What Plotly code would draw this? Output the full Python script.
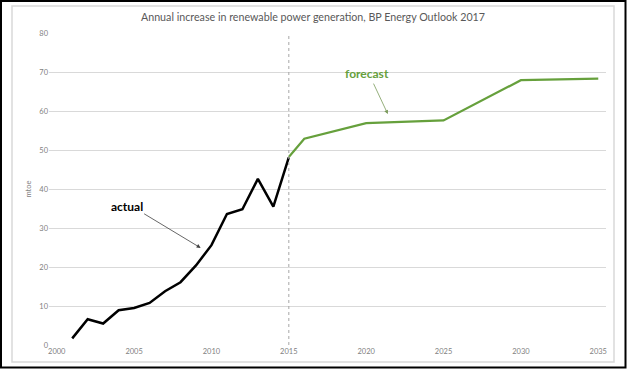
import plotly.graph_objects as go

years_actual = [2001, 2002, 2003, 2004, 2005, 2006, 2007, 2008, 2009, 2010, 2011, 2012, 2013, 2014, 2015]
actual = [1.7, 6.6, 5.5, 8.9, 9.5, 10.8, 13.8, 16.1, 20.4, 25.6, 33.6, 34.8, 42.6, 35.5, 48.1]
years_forecast = [2015, 2016, 2020, 2025, 2030, 2035]
forecast = [48.2, 52.9, 56.9, 57.6, 67.9, 68.3]
x_ticks = [2000, 2005, 2010, 2015, 2020, 2025, 2030, 2035]
y_ticks = [0, 10, 20, 30, 40, 50, 60, 70, 80]
divider_year = 2015

W, H = 627, 369
L, R, T, B = 49, 606, 33, 345

def px(x):
    return (x - L) / (R - L)

def py(y):
    return (B - y) / (B - T)

fig = go.Figure()
fig.add_trace(go.Scatter(x=years_actual, y=actual, mode="lines",
                         line=dict(color="#000000", width=2.5), showlegend=False))
fig.add_trace(go.Scatter(x=years_forecast, y=forecast, mode="lines",
                         line=dict(color="#66A03C", width=2.2), showlegend=False))

font = "Lato, 'Open Sans', sans-serif"
fig.update_layout(
    width=W, height=H,
    margin=dict(l=L, r=W - R, t=T, b=H - B),
    paper_bgcolor="white", plot_bgcolor="white",
    title=dict(text="Annual increase in renewable power generation, BP Energy Outlook 2017",
               x=313 / W, xanchor="center", y=1 - 17 / H, yanchor="middle",
               font=dict(family=font, size=10.7, color="#595959")),
    xaxis=dict(range=[1999.5, 2035.5], tickvals=x_ticks, ticktext=[str(v) for v in x_ticks],
               showgrid=False, zeroline=False, showline=False, ticks="",
               tickfont=dict(family=font, size=7.5, color="#7f7f7f")),
    yaxis=dict(range=[0, 80], tickvals=y_ticks, showgrid=True, gridcolor="#d9d9d9", gridwidth=1,
               zeroline=False, showline=False, ticks="",
               tickfont=dict(family=font, size=7.5, color="#7f7f7f"),
               title=dict(text="mtoe", font=dict(family=font, size=7.5, color="#7f7f7f"), standoff=6)),
    shapes=[
        dict(type="line", xref="x", yref="y", x0=divider_year, x1=divider_year, y0=0, y1=79.3,
             line=dict(color="#a6a6a6", width=1, dash="dot")),
        dict(type="rect", xref="paper", yref="paper", x0=px(12), x1=px(614), y0=py(6), y1=py(362),
             line=dict(color="#d9d9d9", width=1.5), layer="below"),
        dict(type="rect", xref="paper", yref="paper", x0=px(1), x1=px(625.5), y0=py(1), y1=py(367.5),
             line=dict(color="#000000", width=2)),
    ],
    annotations=[
        dict(x=2004.55, y=35.4, xref="x", yref="y", text="<b>actual</b>", showarrow=False,
             font=dict(family=font, size=12, color="#000000")),
        dict(x=2009.3, y=24.9, xref="x", yref="y", text="", showarrow=True, arrowhead=2,
             arrowsize=1, arrowwidth=0.8, arrowcolor="#404040", ax=-58, ay=-35),
        dict(x=2020.03, y=69.7, xref="x", yref="y", text="<b>forecast</b>", showarrow=False,
             font=dict(family=font, size=12, color="#66A03C")),
        dict(x=2021.4, y=59.2, xref="x", yref="y", text="", showarrow=True, arrowhead=2,
             arrowsize=1, arrowwidth=0.8, arrowcolor="#7a9a5a", ax=-15, ay=-32),
    ],
)

fig.write_html("out.html", config={"displayModeBar": False},
               post_script="document.body.style.margin='0';document.body.style.overflow='hidden';")
